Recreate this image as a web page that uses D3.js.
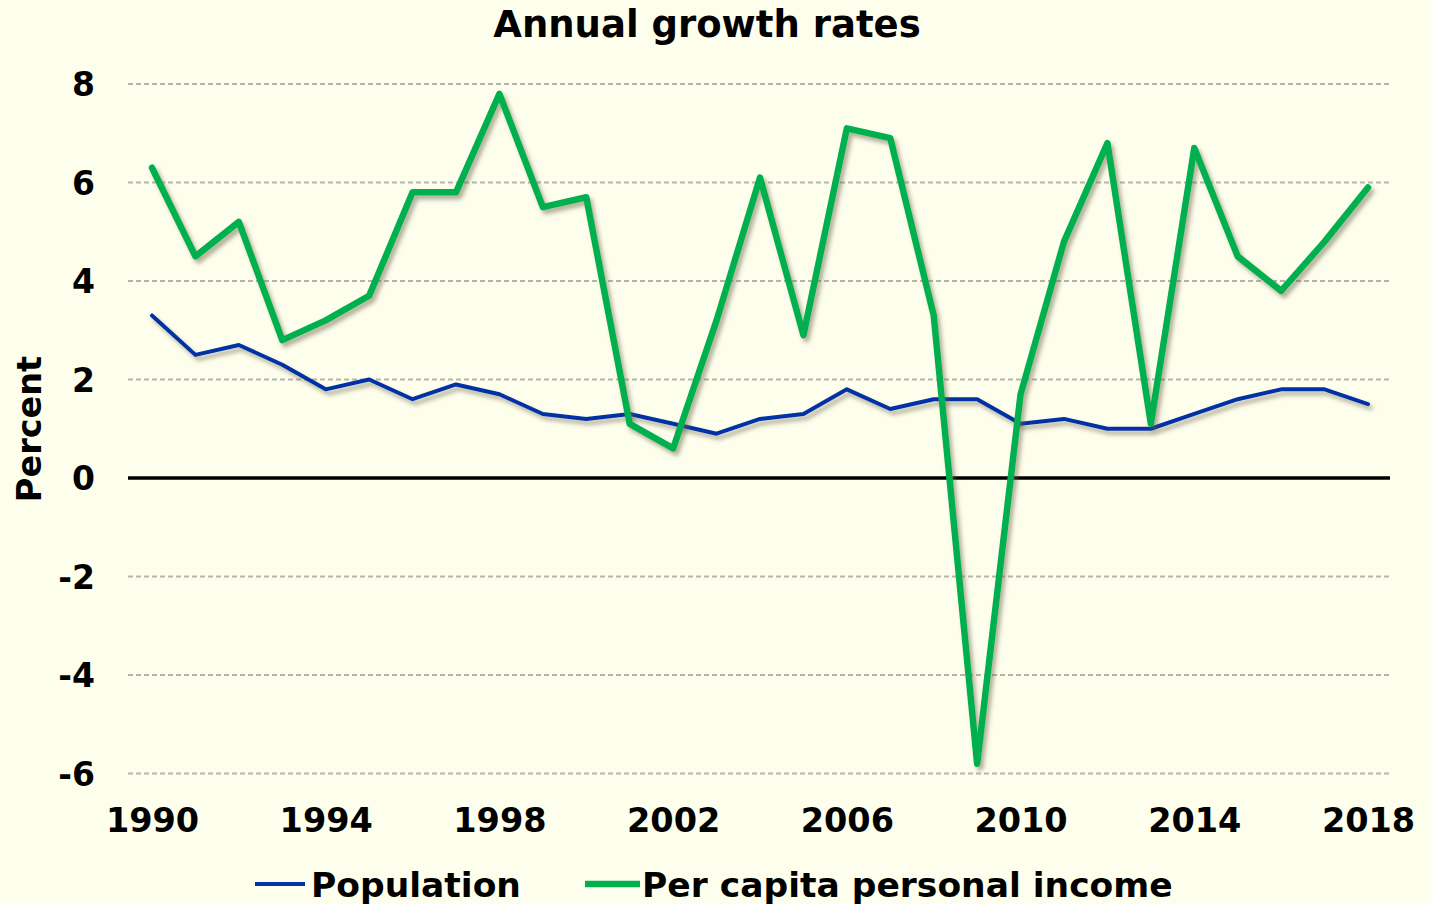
<!DOCTYPE html>
<html><head><meta charset="utf-8">
<script src="https://cdn.jsdelivr.net/npm/d3@7"></script>
<style>
html,body{margin:0;padding:0;background:#FEFEEC;}
svg{display:block;}
text{font-family:"DejaVu Sans",Verdana,sans-serif;font-weight:bold;fill:#000;}
</style></head>
<body>
<svg id="chart" width="1432" height="904"></svg>
<script>
const years = d3.range(1990, 2019);
const population = [3.3,2.5,2.7,2.3,1.8,2.0,1.6,1.9,1.7,1.3,1.2,1.3,1.1,0.9,1.2,1.3,1.8,1.4,1.6,1.6,1.1,1.2,1.0,1.0,1.3,1.6,1.8,1.8,1.5];
const income = [6.3,4.5,5.2,2.8,3.2,3.7,5.8,5.8,7.8,5.5,5.7,1.1,0.6,3.2,6.1,2.9,7.1,6.9,3.3,-5.8,1.7,4.8,6.8,1.1,6.7,4.5,3.8,4.8,5.9];
const yTicks = [-6,-4,-2,0,2,4,6,8];
const xTicks = [1990,1994,1998,2002,2006,2010,2014,2018];
const seriesNames = ["Population","Per capita personal income"];

const svg = d3.select("#chart");
const W = 1432, H = 904;
svg.append("rect").attr("width",W).attr("height",H).attr("fill","#FEFEEC");

const defs = svg.append("defs");
const f = defs.append("filter").attr("id","shadow").attr("x","-10%").attr("y","-10%").attr("width","120%").attr("height","120%");
f.append("feDropShadow").attr("dx",3).attr("dy",4).attr("stdDeviation",2.2).attr("flood-color","#5f5f45").attr("flood-opacity",0.5);

const plotL = 128, plotR = 1390;
const x = d3.scaleLinear().domain([1990,2018]).range([152,1368]);
const y = d3.scaleLinear().domain([0,8]).range([478,84]);

// gridlines
const grid = svg.append("g");
grid.selectAll("line").data(yTicks.filter(d=>d!==0)).join("line")
  .attr("x1",plotL).attr("x2",plotR)
  .attr("y1",d=>y(d)).attr("y2",d=>y(d))
  .attr("stroke","#b5b5ad").attr("stroke-width",1.8).attr("stroke-dasharray","5,3");

// zero line
svg.append("line").attr("x1",plotL).attr("x2",plotR).attr("y1",y(0)).attr("y2",y(0))
  .attr("stroke","#000").attr("stroke-width",3.5);

const fmt = d => String(d);

// y axis
const yAxis = d3.axisLeft(y).tickValues(yTicks).tickSize(0).tickPadding(0).tickFormat(fmt);
const gy = svg.append("g").attr("transform","translate(95,0)").call(yAxis);
gy.select(".domain").remove();
gy.selectAll("text").attr("font-size",33).attr("dy","0.36em").attr("font-family","DejaVu Sans").attr("font-weight","bold").attr("fill","#000");

// x axis
const xAxis = d3.axisBottom(x).tickValues(xTicks).tickSize(0).tickPadding(0).tickFormat(fmt);
const gx = svg.append("g").attr("transform","translate(0,832)").call(xAxis);
gx.select(".domain").remove();
gx.selectAll("text").attr("font-size",33.5).attr("dy","0").attr("font-family","DejaVu Sans").attr("font-weight","bold").attr("fill","#000");

// lines
const line = d3.line().x((d,i)=>x(years[i])).y(d=>y(d)).curve(d3.curveLinear);
svg.append("path").datum(population).attr("d",line).attr("fill","none")
  .attr("stroke","#0033A6").attr("stroke-width",4).attr("stroke-linejoin","round").attr("stroke-linecap","round")
  .attr("filter","url(#shadow)");
svg.append("path").datum(income).attr("d",line).attr("fill","none")
  .attr("stroke","#00B050").attr("stroke-width",6.5).attr("stroke-linejoin","round").attr("stroke-linecap","round")
  .attr("filter","url(#shadow)");

// title
svg.append("text").attr("x",707).attr("y",37).attr("text-anchor","middle").attr("font-size",37).text("Annual growth rates");

// y label
svg.append("text").attr("transform","translate(41,429) rotate(-90)").attr("text-anchor","middle").attr("font-size",33.5).text("Percent");

// legend
const leg = svg.append("g");
leg.append("line").attr("x1",255).attr("x2",305).attr("y1",884).attr("y2",884).attr("stroke","#0033A6").attr("stroke-width",4);
leg.append("text").attr("x",311).attr("y",897).attr("font-size",34.5).text(seriesNames[0]);
leg.append("line").attr("x1",585).attr("x2",640).attr("y1",884).attr("y2",884).attr("stroke","#00B050").attr("stroke-width",6.5);
leg.append("text").attr("x",642).attr("y",897).attr("font-size",34.5).text(seriesNames[1]);
</script>
</body></html>
